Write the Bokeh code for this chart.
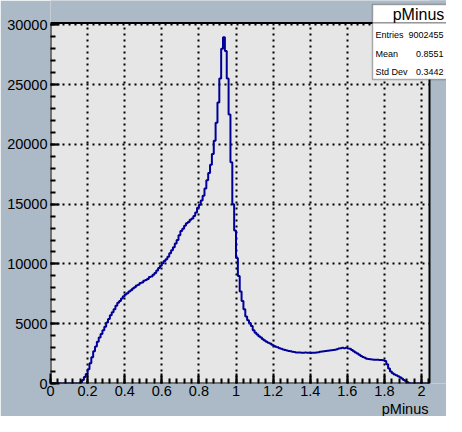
import numpy as np
from bokeh.plotting import figure
from bokeh.models import FixedTicker, PrintfTickFormatter, Label, BoxAnnotation, Range1d, Title
from bokeh.embed import file_html
from bokeh.resources import INLINE

# ---------------- data ----------------
bin_width = 0.01
counts = (
    [0] * 16
    + [100, 300, 550, 800]
    + [1200, 1700, 2200, 2700, 3100, 3500, 3850, 4150, 4450, 4750]
    + [5100, 5400, 5700, 5950, 6200, 6500, 6750, 6900, 7100, 7300]
    + [7450, 7550, 7700, 7800, 7950, 8050, 8200, 8250, 8400, 8450]
    + [8600, 8650, 8750, 8900, 8950, 9100, 9250, 9450, 9650, 9850]
    + [10050, 10250, 10400, 10600, 10900, 11150, 11400, 11700, 12000, 12400]
    + [12750, 12950, 13200, 13400, 13500, 13700, 13800, 14000, 14300, 14700]
    + [14950, 15300, 15700, 16300, 17000, 17600, 18300, 19200, 20300, 21800]
    + [23500, 25500, 28000, 28950, 27800, 25500, 22500, 18500, 15000, 12800]
    + [10500, 9000, 7700, 6900, 6200, 5600, 5300, 5050, 4800, 4450]
    + [4250, 4100, 3950, 3850, 3700, 3600, 3500, 3400, 3350, 3250]
    + [3150, 3080, 3030, 2950, 2900, 2850, 2800, 2760, 2720, 2690]
    + [2660, 2630, 2600, 2590, 2600, 2580, 2570, 2590, 2570, 2580]
    + [2560, 2580, 2570, 2600, 2620, 2650, 2680, 2700, 2720, 2730]
    + [2760, 2780, 2800, 2830, 2870, 2920, 2950, 2980, 2950, 2990]
    + [2930, 2900, 2800, 2700, 2600, 2500, 2400, 2300, 2220, 2150]
    + [2080, 2040, 2020, 2000, 1990, 1980, 1990, 1970, 1960, 1950]
    + [1880, 1600, 1250, 1000, 850, 750, 680, 600, 520, 420]
    + [300, 200, 100, 30]
    + [0] * 10
)
edges = np.round(np.arange(len(counts) + 1) * bin_width, 4)

x_ticks = [0, 0.2, 0.4, 0.6, 0.8, 1, 1.2, 1.4, 1.6, 1.8, 2]
y_ticks = [0, 5000, 10000, 15000, 20000, 25000, 30000]
x_minor = list(np.round(np.arange(0, 2.041, 0.04), 2))
y_minor = list(range(0, 30001, 1000))

x_title = "pMinus"
stats_name = "pMinus"
stats_labels = ["Entries", "Mean", "Std Dev"]
stats_values = ["9002455", "0.8551", "0.3442"]

# axis extents of the drawn histogram frame
x_lo, x_hi = 0.0, 2.043
y_lo, y_hi = 0.0, 30150.0

# ---------------- layout / styling ----------------
W, H = 446, 416
FRAME_L = 50          # px, left edge of frame
PLOT_R = 429          # px, right edge of histogram frame
PLOT_T = 22.5         # px, top edge of histogram frame
FB_EST = 383          # px, expected bottom edge of Bokeh frame
CANVAS = "#abbac6"
FRAME = "#e6e6e6"
LINE = "#000099"
FONT = "Liberation Sans"

# the Bokeh frame is extended to the top/right canvas edges so the stats box
# can be drawn there; the extension is masked in the canvas colour
x_ext = x_hi * (W - FRAME_L) / (PLOT_R - FRAME_L)
y_ext = y_hi * FB_EST / (FB_EST - PLOT_T)

p = figure(
    width=W, height=H,
    x_range=Range1d(x_lo, x_ext), y_range=Range1d(y_lo, y_ext),
    output_backend="svg", toolbar_location=None,
    min_border_left=FRAME_L, min_border_right=0, min_border_top=0, min_border_bottom=0,
    background_fill_color=FRAME, border_fill_color=CANVAS,
)
p.outline_line_color = None

y_step = list(counts) + [0]
p.step(edges, y_step, mode="after", line_color=LINE, line_width=2)

# masks for the extension area
p.quad(left=[x_hi], right=[x_ext * 1.01], bottom=[y_lo - 1000], top=[y_ext * 1.01],
       fill_color=CANVAS, line_color=None)
p.quad(left=[x_lo - 0.1], right=[x_ext * 1.01], bottom=[y_hi], top=[y_ext * 1.01],
       fill_color=CANVAS, line_color=None)
# histogram frame border
p.quad(left=[x_lo], right=[x_hi], bottom=[y_lo], top=[y_hi],
       fill_color=None, line_color="black", line_width=2)

p.xaxis.ticker = FixedTicker(ticks=x_ticks, minor_ticks=x_minor)
p.yaxis.ticker = FixedTicker(ticks=y_ticks, minor_ticks=y_minor)
for ax in (p.xaxis[0], p.yaxis[0]):
    ax.formatter = PrintfTickFormatter(format="%g")
    ax.axis_line_color = None
    ax.major_tick_out = 0
    ax.minor_tick_out = 0
    ax.major_tick_line_width = 2
    ax.minor_tick_line_width = 2
    ax.major_tick_line_color = "black"
    ax.minor_tick_line_color = "black"
    ax.major_label_text_font = FONT
    ax.major_label_text_color = "black"
p.xaxis.major_tick_in = 10
p.xaxis.minor_tick_in = 5
p.yaxis.major_tick_in = 9
p.yaxis.minor_tick_in = 5
p.xaxis.major_label_text_font_size = "14.5px"
p.yaxis.major_label_text_font_size = "14.5px"
p.xaxis.major_label_standoff = 2
p.yaxis.major_label_standoff = 3

for g in (p.xgrid[0], p.ygrid[0]):
    g.grid_line_color = "black"
    g.grid_line_dash = "2 4"
    g.grid_line_width = 2

p.add_layout(Title(text=x_title, align="right", offset=W - PLOT_R + 1, standoff=0,
                   text_font=FONT, text_font_size="14.5px", text_font_style="normal",
                   text_color="black"), "below")

# ---------------- stats box ----------------
box_left, box_right = 372, W + 10
head_top, head_bot, body_bot = 4, 22.5, 79
for top, bot in ((head_top, head_bot), (head_bot, body_bot)):
    p.add_layout(BoxAnnotation(left=box_left, right=box_right, top=top, bottom=bot,
                               left_units="canvas", right_units="canvas",
                               top_units="canvas", bottom_units="canvas",
                               fill_color="white", fill_alpha=1, line_color="black",
                               line_width=1.5, level="overlay"))
p.add_layout(Label(x=418, y=13.5, x_units="canvas", y_units="canvas", text=stats_name,
                   text_align="center", text_baseline="middle", text_font=FONT,
                   text_font_size="16px", text_color="black", level="overlay"))
row_y = [34, 53, 71.5]
for lab, val, yy in zip(stats_labels, stats_values, row_y):
    p.add_layout(Label(x=375, y=yy, x_units="canvas", y_units="canvas", text=lab,
                       text_align="left", text_baseline="middle", text_font=FONT,
                       text_font_size="9px", text_color="black", level="overlay"))
    p.add_layout(Label(x=443, y=yy, x_units="canvas", y_units="canvas", text=val,
                       text_align="right", text_baseline="middle", text_font=FONT,
                       text_font_size="9px", text_color="black", level="overlay"))

open("out.html", "w").write(file_html(p, INLINE))
